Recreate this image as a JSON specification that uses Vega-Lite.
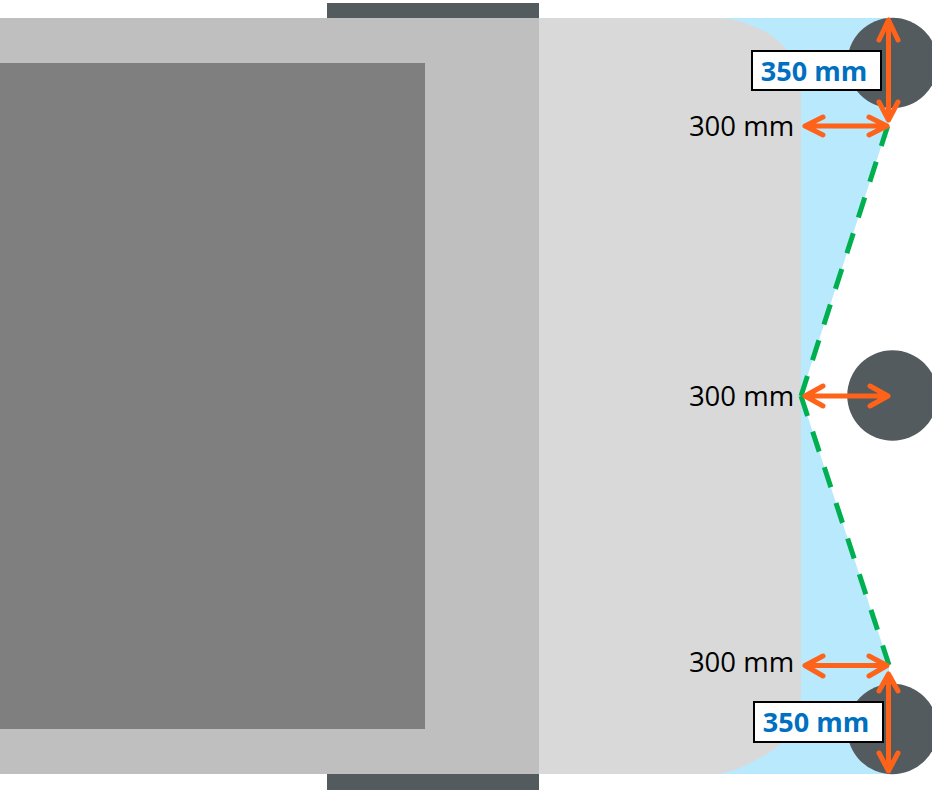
{"$schema":"https://vega.github.io/schema/vega-lite/v6.json","width":932,"height":790,"padding":0,"autosize":{"type":"fit","contains":"padding"},"background":"white","config":{"view":{"stroke":null}},
"datasets":{
"rects":[{"part":"post","x0":327,"x1":539,"y0":3,"y1":790},{"part":"slab","x0":0,"x1":539,"y0":18,"y1":774},{"part":"core","x0":0,"x1":425,"y0":63,"y1":729}],
"blue":[{"y":18,"a":700,"b":889},{"y":122,"a":700,"b":889},{"y":396,"a":700,"b":801},{"y":665,"a":700,"b":889},{"y":774,"a":700,"b":889}],
"grey":[{"y":18,"a":539,"b":722},{"y":20,"a":539,"b":734},{"y":25,"a":539,"b":750},{"y":30,"a":539,"b":762},{"y":40,"a":539,"b":777},{"y":50,"a":539,"b":787},{"y":60,"a":539,"b":794},{"y":75,"a":539,"b":799},{"y":95,"a":539,"b":801},{"y":695,"a":539,"b":801},{"y":715,"a":539,"b":799},{"y":730,"a":539,"b":794},{"y":742,"a":539,"b":783},{"y":752,"a":539,"b":770},{"y":762,"a":539,"b":752},{"y":769,"a":539,"b":737},{"y":774,"a":539,"b":720}],
"circles":[{"x":892.5,"y":63},{"x":892.5,"y":395.5},{"x":892.5,"y":729}],
"green":[{"s":"up","x":801,"y":396,"i":0},{"s":"up","x":889,"y":122,"i":1},{"s":"down","x":801,"y":396,"i":0},{"s":"down","x":889,"y":665,"i":1}],
"arrows":[
{"a":"v1","i":0,"x":879,"y":40},{"a":"v1","i":1,"x":888.5,"y":20},{"a":"v1","i":2,"x":898,"y":40},{"a":"v1","i":3,"x":888.5,"y":20},{"a":"v1","i":4,"x":888.5,"y":120},{"a":"v1","i":5,"x":879,"y":102},{"a":"v1","i":6,"x":888.5,"y":120},{"a":"v1","i":7,"x":898,"y":102},
{"a":"h1","i":0,"x":823,"y":117},{"a":"h1","i":1,"x":805,"y":126},{"a":"h1","i":2,"x":823,"y":135},{"a":"h1","i":3,"x":805,"y":126},{"a":"h1","i":4,"x":887,"y":126},{"a":"h1","i":5,"x":869,"y":117},{"a":"h1","i":6,"x":887,"y":126},{"a":"h1","i":7,"x":869,"y":135},
{"a":"h2","i":0,"x":823,"y":386},{"a":"h2","i":1,"x":805,"y":396},{"a":"h2","i":2,"x":823,"y":406},{"a":"h2","i":3,"x":805,"y":396},{"a":"h2","i":4,"x":888,"y":396},{"a":"h2","i":5,"x":870,"y":386},{"a":"h2","i":6,"x":888,"y":396},{"a":"h2","i":7,"x":870,"y":406},
{"a":"h3","i":0,"x":823,"y":656},{"a":"h3","i":1,"x":805,"y":665.5},{"a":"h3","i":2,"x":823,"y":676},{"a":"h3","i":3,"x":805,"y":665.5},{"a":"h3","i":4,"x":887,"y":665.5},{"a":"h3","i":5,"x":869,"y":656},{"a":"h3","i":6,"x":887,"y":665.5},{"a":"h3","i":7,"x":869,"y":676},
{"a":"v2","i":0,"x":879,"y":691},{"a":"v2","i":1,"x":888.5,"y":674},{"a":"v2","i":2,"x":898,"y":691},{"a":"v2","i":3,"x":888.5,"y":674},{"a":"v2","i":4,"x":888.5,"y":771},{"a":"v2","i":5,"x":879,"y":753},{"a":"v2","i":6,"x":888.5,"y":771},{"a":"v2","i":7,"x":898,"y":753}],
"boxes":[{"x0":752,"x1":881,"y0":51,"y1":90},{"x0":754,"x1":883,"y0":702,"y1":742}],
"black":[{"x":741.5,"y":128,"t":"300 mm"},{"x":741.5,"y":398,"t":"300 mm"},{"x":741.5,"y":664,"t":"300 mm"}],
"bluetext":[{"x":814,"y":73,"t":"350 mm"},{"x":816,"y":724,"t":"350 mm"}]
},
"layer":[
{"data":{"name":"rects"},"mark":{"type":"rect"},"encoding":{"x":{"field":"x0","type":"quantitative","scale":{"domain":[0,932],"nice":false,"zero":false},"axis":null},"x2":{"field":"x1"},"y":{"field":"y0","type":"quantitative","scale":{"domain":[0,790],"reverse":true,"nice":false,"zero":false},"axis":null},"y2":{"field":"y1"},"color":{"field":"part","type":"nominal","legend":null,"scale":{"domain":["post","slab","core"],"range":["#535b5e","#bfbfbf","#7f7f7f"]}}}},
{"data":{"name":"blue"},"mark":{"type":"area","orient":"horizontal","color":"#b8e9fd"},"encoding":{"y":{"field":"y","type":"quantitative","axis":null},"x":{"field":"a","type":"quantitative","axis":null},"x2":{"field":"b"}}},
{"data":{"name":"grey"},"mark":{"type":"area","orient":"horizontal","color":"#d9d9d9","interpolate":"monotone"},"encoding":{"y":{"field":"y","type":"quantitative","axis":null},"x":{"field":"a","type":"quantitative","axis":null},"x2":{"field":"b"}}},
{"data":{"name":"circles"},"mark":{"type":"point","shape":"circle","filled":true,"opacity":1,"color":"#535b5e","size":8200,"clip":true},"encoding":{"x":{"field":"x","type":"quantitative","axis":null},"y":{"field":"y","type":"quantitative","axis":null}}},
{"data":{"name":"green"},"mark":{"type":"line","color":"#00b050","strokeWidth":5,"strokeDash":[21,16.5]},"encoding":{"x":{"field":"x","type":"quantitative","axis":null},"y":{"field":"y","type":"quantitative","axis":null},"detail":{"field":"s"},"order":{"field":"i"}}},
{"data":{"name":"arrows"},"mark":{"type":"line","color":"#ff6319","strokeWidth":5,"strokeCap":"round","strokeJoin":"round"},"encoding":{"x":{"field":"x","type":"quantitative","axis":null},"y":{"field":"y","type":"quantitative","axis":null},"detail":{"field":"a"},"order":{"field":"i"}}},
{"data":{"name":"boxes"},"mark":{"type":"rect","fill":"white","stroke":"black","strokeWidth":2},"encoding":{"x":{"field":"x0","type":"quantitative","axis":null},"x2":{"field":"x1"},"y":{"field":"y0","type":"quantitative","axis":null},"y2":{"field":"y1"}}},
{"data":{"name":"black"},"mark":{"type":"text","font":"Open Sans","fontSize":27.5,"color":"black","align":"center","baseline":"middle"},"encoding":{"x":{"field":"x","type":"quantitative","axis":null},"y":{"field":"y","type":"quantitative","axis":null},"text":{"field":"t"}}},
{"data":{"name":"bluetext"},"mark":{"type":"text","font":"Open Sans","fontWeight":"bold","fontSize":27,"color":"#0070c0","align":"center","baseline":"middle"},"encoding":{"x":{"field":"x","type":"quantitative","axis":null},"y":{"field":"y","type":"quantitative","axis":null},"text":{"field":"t"}}}
]}
